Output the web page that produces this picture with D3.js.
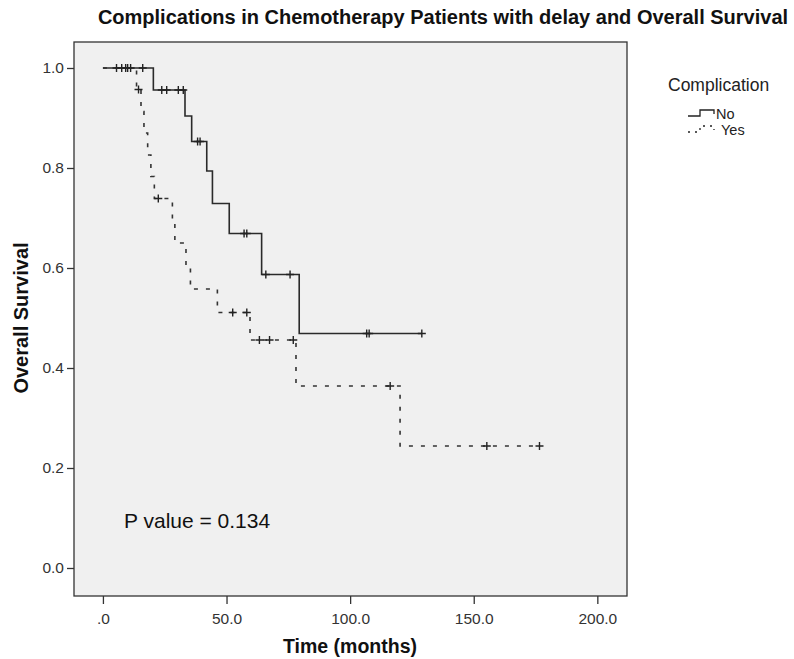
<!DOCTYPE html>
<html>
<head>
<meta charset="utf-8">
<script src="https://cdn.jsdelivr.net/npm/d3@7"></script>
<style>
  body { margin: 0; background: #fff; }
  svg { font-family: "Liberation Sans", Arial, sans-serif; }
</style>
</head>
<body>
<svg id="chart" width="794" height="659"></svg>
<script>
//////////////////////////
// Data //
//////////////////////////
// step times (months) and survival after each step
const noTimes = [0, 20.4, 33.2, 35.9, 42.0, 44.3, 51.1, 64.2, 79.4];
const noSurv = [1.0, 0.956, 0.904, 0.853, 0.794, 0.729, 0.669, 0.587, 0.469];
const noCensor = [5.5, 7.6, 9.2, 10.0, 11.2, 16.1, 23.8, 25.8, 30.5, 32.5,
  38.3, 39.3, 57.1, 58.2, 65.9, 75.7, 106.7, 107.7, 129.0];

const yesTimes = [0, 13.6, 15.4, 16.6, 18.1, 19.4, 20.8, 28.1, 29.1, 33.6,
  35.4, 46.3, 59.5, 78.1, 120.2];
const yesSurv = [1.0, 0.957, 0.913, 0.87, 0.826, 0.783, 0.739, 0.695, 0.65,
  0.604, 0.558, 0.511, 0.456, 0.364, 0.244];
const yesCensor = [14.4, 22.4, 52.5, 58.2, 63.3, 67.4, 77.0, 116.2, 155.3, 176.6];

const xTicks = [0, 50, 100, 150, 200];
const yTicks = [0, 0.2, 0.4, 0.6, 0.8, 1.0];
const groups = ["No", "Yes"];

//////////////////////////
// Chart specifications //
//////////////////////////
const frame = { left: 74, right: 627, top: 42, bottom: 596 };
const ink = "#222";

const svg = d3.select("#chart");

const x = d3.scaleLinear().domain([-11.7, 212]).range([frame.left, frame.right]);
const y = d3.scaleLinear().domain([-0.056, 1.052]).range([frame.bottom, frame.top]);

// plot background + frame
svg.append("rect")
  .attr("x", frame.left).attr("y", frame.top)
  .attr("width", frame.right - frame.left)
  .attr("height", frame.bottom - frame.top)
  .attr("fill", "#f0f0f0")
  .attr("stroke", "#333")
  .attr("stroke-width", 1.3);

// title
svg.append("text")
  .attr("x", 443).attr("y", 24)
  .attr("text-anchor", "middle")
  .attr("font-size", 20)
  .attr("font-weight", "bold")
  .attr("fill", "#111")
  .text("Complications in Chemotherapy Patients with delay and Overall Survival");

// y axis
const yAxis = (g) =>
  g.attr("transform", `translate(${frame.left},0)`)
    .call(d3.axisLeft(y).tickValues(yTicks).tickSize(7).tickPadding(3)
      .tickFormat(d3.format(".1f")))
    .call((g) => g.select(".domain").remove())
    .call((g) => g.selectAll(".tick line").attr("stroke", "#333").attr("stroke-width", 1.3))
    .call((g) => g.selectAll(".tick text").attr("fill", "#333")
      .attr("font-size", 15.5).attr("font-family", "Liberation Sans, Arial"));
svg.append("g").call(yAxis);

// x axis
const xAxis = (g) =>
  g.attr("transform", `translate(0,${frame.bottom})`)
    .call(d3.axisBottom(x).tickValues(xTicks).tickSize(8).tickPadding(9)
      .tickFormat((d) => (d === 0 ? ".0" : d3.format(".1f")(d))))
    .call((g) => g.select(".domain").remove())
    .call((g) => g.selectAll(".tick line").attr("stroke", "#333").attr("stroke-width", 1.3))
    .call((g) => g.selectAll(".tick text").attr("fill", "#333")
      .attr("font-size", 15.5).attr("font-family", "Liberation Sans, Arial"));
svg.append("g").call(xAxis);

// axis titles
svg.append("text")
  .attr("x", 350).attr("y", 653)
  .attr("text-anchor", "middle")
  .attr("font-size", 19.5).attr("font-weight", "bold").attr("fill", "#111")
  .text("Time (months)");

svg.append("text")
  .attr("transform", "translate(28,318) rotate(-90)")
  .attr("text-anchor", "middle")
  .attr("font-size", 20).attr("font-weight", "bold").attr("fill", "#111")
  .text("Overall Survival");

//////////////////////////
// KM curves            //
//////////////////////////
function stepData(times, surv, end) {
  const pts = times.map((t, i) => [t, surv[i]]);
  pts.push([end, surv[surv.length - 1]]);
  return pts;
}
function survAt(times, surv, t) {
  const i = d3.bisectRight(times, t) - 1;
  return surv[Math.max(i, 0)];
}

const line = d3.line()
  .x((d) => x(d[0]))
  .y((d) => y(d[1]))
  .curve(d3.curveStepAfter);

const series = [
  { name: "No", times: noTimes, surv: noSurv, censor: noCensor, dash: null },
  { name: "Yes", times: yesTimes, surv: yesSurv, censor: yesCensor, dash: "4,8" },
];

// draw Yes first so solid line sits on top
series.slice().reverse().forEach((s) => {
  const end = d3.max([d3.max(s.censor), d3.max(s.times)]);
  svg.append("path")
    .datum(stepData(s.times, s.surv, end))
    .attr("d", line)
    .attr("fill", "none")
    .attr("stroke", s.dash ? "#333" : "#2a2a2a")
    .attr("stroke-width", 1.6)
    .attr("stroke-dasharray", s.dash);

  // censor marks
  const h = 4;
  svg.append("g")
    .selectAll("path")
    .data(s.censor)
    .join("path")
    .attr("d", (t) => {
      const cx = x(t), cy = y(survAt(s.times, s.surv, t));
      return `M${cx - h},${cy}H${cx + h}M${cx},${cy - h}V${cy + h}`;
    })
    .attr("stroke", ink)
    .attr("stroke-width", 1.4)
    .attr("fill", "none");
});

// p value
svg.append("text")
  .attr("x", 124).attr("y", 528)
  .attr("font-size", 21).attr("fill", "#111")
  .text("P value = 0.134");

//////////////////////////
// Legend               //
//////////////////////////
const legend = svg.append("g");
legend.append("text")
  .attr("x", 668).attr("y", 91)
  .attr("font-size", 17.5).attr("fill", "#222")
  .text("Complication");

groups.forEach((g, i) => {
  const ly = 116 + i * 16;
  legend.append("path")
    .attr("d", `M688,${ly}H700V${ly - 6}H714V${ly - 2}`)
    .attr("fill", "none")
    .attr("stroke", "#222")
    .attr("stroke-width", 1.3)
    .attr("stroke-dasharray", i === 1 ? "2,5" : null);
  legend.append("text")
    .attr("x", i === 1 ? 721 : 716).attr("y", ly + 3)
    .attr("font-size", 14.5).attr("fill", "#222")
    .text(g);
});
</script>
</body>
</html>
